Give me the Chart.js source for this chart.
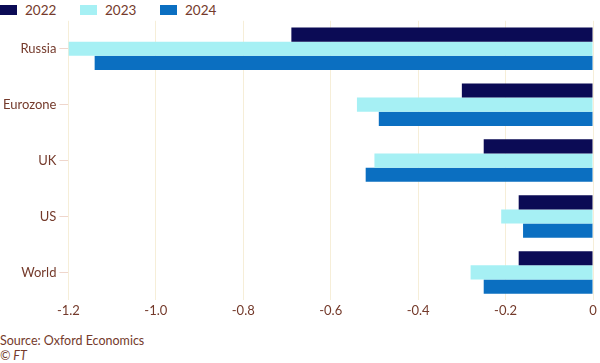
<!DOCTYPE html>
<html>
<head>
<meta charset="utf-8">
<script src="https://cdn.jsdelivr.net/npm/chart.js@4.4.1/dist/chart.umd.min.js"></script>
<style>
  html, body { margin: 0; padding: 0; background: #fff; }
  body { width: 600px; height: 363px; position: relative; overflow: hidden; font-family: Lato, "Noto Sans", sans-serif; color: #743a2b; }
  #legend { position: absolute; left: 0; top: 2px; display: flex; font-size: 13.5px; }
  #legend .item { width: 80px; display: flex; align-items: center; }
  #legend .box { width: 17px; height: 10px; margin-right: 8px; }
  #wrap { position: absolute; left: 0; top: 10px; width: 600px; height: 312px; }
  #source { position: absolute; left: 0; top: 333px; font-size: 12.5px; }
  #ft { position: absolute; left: 0; top: 348px; font-size: 12.5px; font-style: italic; }
</style>
</head>
<body>
<div id="legend"></div>
<div id="wrap"><canvas id="chart"></canvas></div>
<div id="source">Source: Oxford Economics</div>
<div id="ft">© FT</div>
<script>
// Regions and years
const regions = ['Russia', 'Eurozone', 'UK', 'US', 'World'];
const years = ['2022', '2023', '2024'];

// Values per year
const values2022 = [-0.69, -0.30, -0.25, -0.17, -0.17];
const values2023 = [-1.20, -0.54, -0.50, -0.21, -0.28];
const values2024 = [-1.14, -0.49, -0.52, -0.16, -0.25];

const xTicks = [-1.2, -1.0, -0.8, -0.6, -0.4, -0.2, 0];

const colors = ['#0b0b55', '#a6f0f4', '#0b6fc1'];
const textColor = '#743a2b';
const gridColor = '#f6eed8';

// Build legend
const legend = document.getElementById('legend');
years.forEach((y, i) => {
    const item = document.createElement('div');
    item.className = 'item';
    item.innerHTML = `<span class="box" style="background:${colors[i]}"></span>${y}`;
    legend.appendChild(item);
});

const ctx = document.getElementById('chart');
new Chart(ctx, {
    type: 'bar',
    data: {
        labels: regions,
        datasets: [
            { label: years[0], data: values2022, backgroundColor: colors[0] },
            { label: years[1], data: values2023, backgroundColor: colors[1] },
            { label: years[2], data: values2024, backgroundColor: colors[2] }
        ]
    },
    options: {
        indexAxis: 'y',
        responsive: true,
        maintainAspectRatio: false,
        animation: false,
        layout: { padding: { left: 0, right: 7, top: 0, bottom: 0 } },
        datasets: {
            bar: { categoryPercentage: 0.76, barPercentage: 1.0 }
        },
        plugins: {
            legend: { display: false },
            tooltip: { enabled: false }
        },
        scales: {
            x: {
                min: -1.2,
                max: 0,
                afterBuildTicks: (axis) => { axis.ticks = xTicks.map(v => ({ value: v })); },
                ticks: {
                    color: textColor,
                    font: { family: 'Lato', size: 13 },
                    padding: 3,
                    maxRotation: 0,
                    callback: (v) => v === 0 ? '0' : v.toFixed(1)
                },
                grid: { color: gridColor, drawTicks: false },
                border: { display: false }
            },
            y: {
                ticks: {
                    color: textColor,
                    font: { family: 'Lato', size: 13 },
                    padding: 3
                },
                grid: { offset: false, drawOnChartArea: false, color: '#efd6cc', tickLength: 9 },
                border: { display: false }
            }
        }
    }
});
</script>
</body>
</html>
